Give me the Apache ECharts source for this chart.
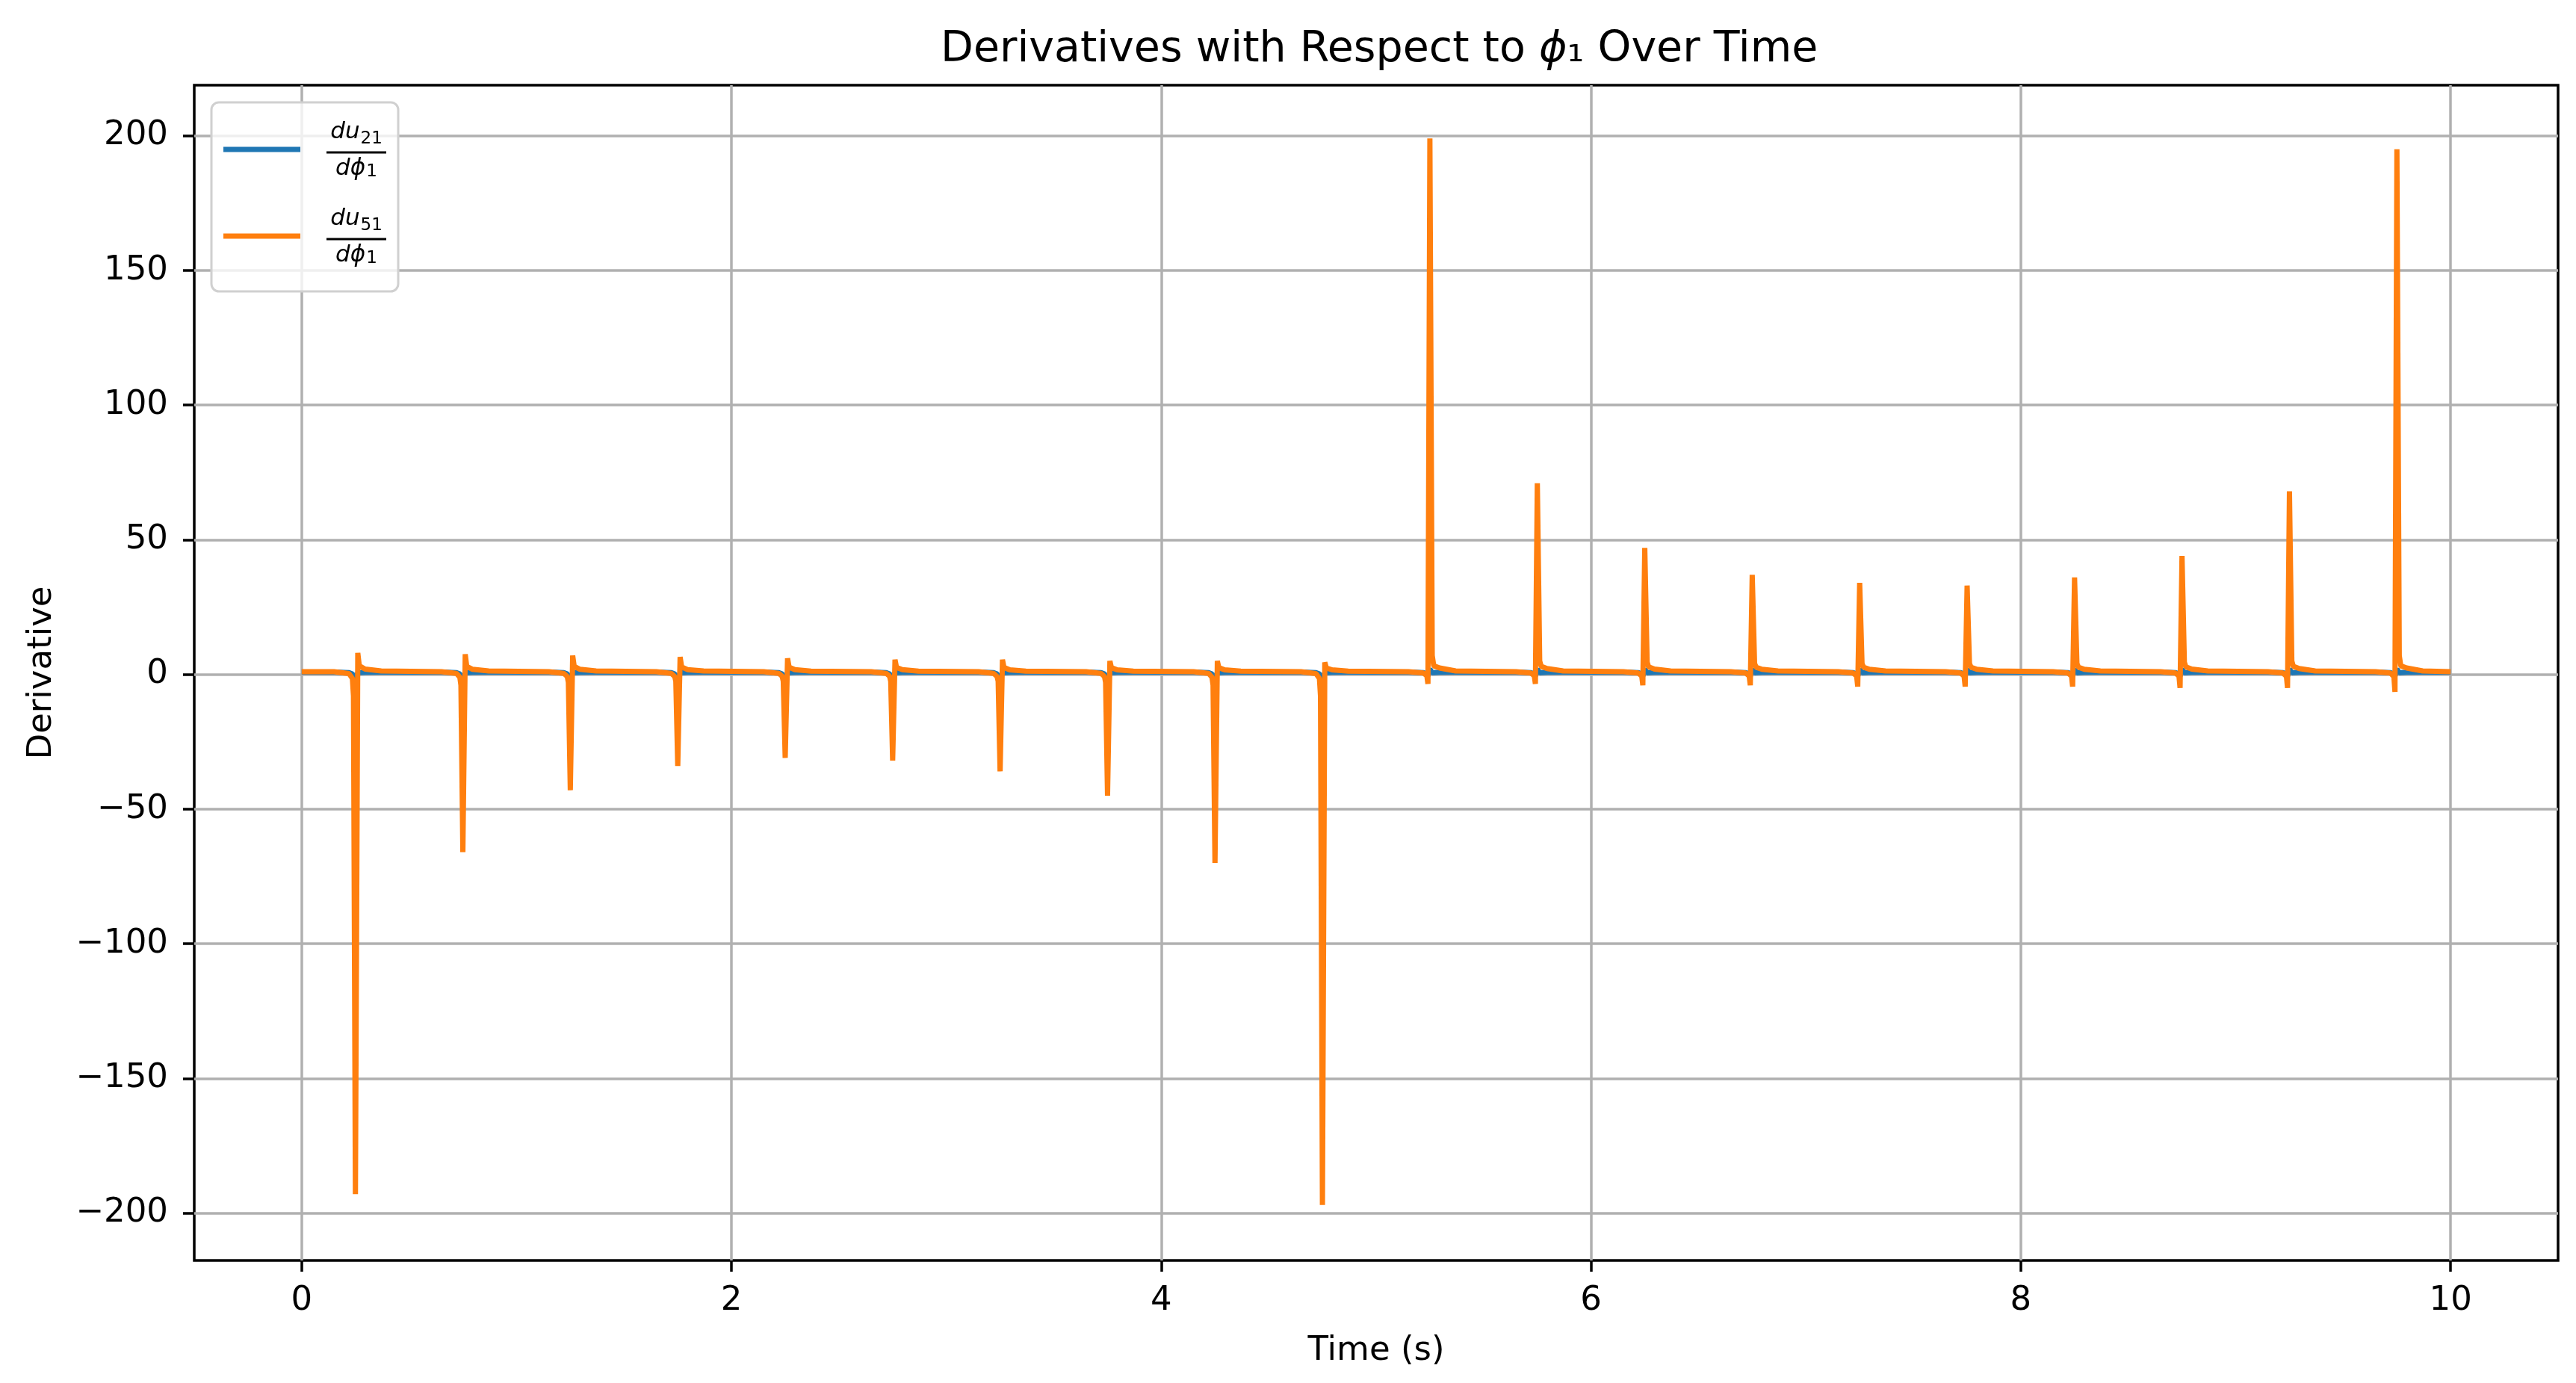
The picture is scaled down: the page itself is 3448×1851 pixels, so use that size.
<!DOCTYPE html>
<html>
<head>
<meta charset="utf-8">
<title>Derivatives with Respect to phi1</title>
<script src="https://cdn.jsdelivr.net/npm/echarts@6/dist/echarts.min.js"></script>
<style>
  html, body { margin: 0; padding: 0; background: #ffffff; }
  #chart { width: 3448px; height: 1851px; }
</style>
</head>
<body>
<div id="chart"></div>
<script>
// time samples (s), dense around each switching instant
var time = [
  0,
  0.15, 0.22, 0.236, 0.241, 0.25, 0.261, 0.268, 0.295, 0.37,
  0.65, 0.72, 0.736, 0.741, 0.75, 0.761, 0.768, 0.795, 0.87,
  1.15, 1.22, 1.236, 1.241, 1.25, 1.261, 1.268, 1.295, 1.37,
  1.65, 1.72, 1.736, 1.741, 1.75, 1.761, 1.768, 1.795, 1.87,
  2.15, 2.22, 2.236, 2.241, 2.25, 2.261, 2.268, 2.295, 2.37,
  2.65, 2.72, 2.736, 2.741, 2.75, 2.761, 2.768, 2.795, 2.87,
  3.15, 3.22, 3.236, 3.241, 3.25, 3.261, 3.268, 3.295, 3.37,
  3.65, 3.72, 3.736, 3.741, 3.75, 3.761, 3.768, 3.795, 3.87,
  4.15, 4.22, 4.236, 4.241, 4.25, 4.261, 4.268, 4.295, 4.37,
  4.65, 4.72, 4.736, 4.741, 4.75, 4.761, 4.768, 4.795, 4.87,
  5.15, 5.22, 5.236, 5.241, 5.25, 5.261, 5.268, 5.295, 5.37,
  5.65, 5.72, 5.736, 5.741, 5.75, 5.761, 5.768, 5.795, 5.87,
  6.15, 6.22, 6.236, 6.241, 6.25, 6.261, 6.268, 6.295, 6.37,
  6.65, 6.72, 6.736, 6.741, 6.75, 6.761, 6.768, 6.795, 6.87,
  7.15, 7.22, 7.236, 7.241, 7.25, 7.261, 7.268, 7.295, 7.37,
  7.65, 7.72, 7.736, 7.741, 7.75, 7.761, 7.768, 7.795, 7.87,
  8.15, 8.22, 8.236, 8.241, 8.25, 8.261, 8.268, 8.295, 8.37,
  8.65, 8.72, 8.736, 8.741, 8.75, 8.761, 8.768, 8.795, 8.87,
  9.15, 9.22, 9.236, 9.241, 9.25, 9.261, 9.268, 9.295, 9.37,
  9.65, 9.72, 9.736, 9.741, 9.75, 9.761, 9.768, 9.795, 9.87,
  10
];

// du21/dphi1 - stays close to zero
var du21 = [
  0.9,
  0.9, 0.7, 0.2, -0.6, -2, 0.6, 0.7, 0.8, 0.9,
  0.9, 0.7, 0.2, -0.6, -2, 0.6, 0.7, 0.8, 0.9,
  0.9, 0.7, 0.2, -0.6, -2, 0.6, 0.7, 0.8, 0.9,
  0.9, 0.7, 0.2, -0.6, -2, 0.6, 0.7, 0.8, 0.9,
  0.9, 0.7, 0.2, -0.6, -2, 0.6, 0.7, 0.8, 0.9,
  0.9, 0.7, 0.2, -0.6, -2, 0.6, 0.7, 0.8, 0.9,
  0.9, 0.7, 0.2, -0.6, -2, 0.6, 0.7, 0.8, 0.9,
  0.9, 0.7, 0.2, -0.6, -2, 0.6, 0.7, 0.8, 0.9,
  0.9, 0.7, 0.2, -0.6, -2, 0.6, 0.7, 0.8, 0.9,
  0.9, 0.7, 0.2, -0.6, -2, 0.6, 0.7, 0.8, 0.9,
  0.9, 0.7, 0.2, -0.6, 2, 0.6, 0.7, 0.8, 0.9,
  0.9, 0.7, 0.2, -0.6, 2, 0.6, 0.7, 0.8, 0.9,
  0.9, 0.7, 0.2, -0.6, 2, 0.6, 0.7, 0.8, 0.9,
  0.9, 0.7, 0.2, -0.6, 2, 0.6, 0.7, 0.8, 0.9,
  0.9, 0.7, 0.2, -0.6, 2, 0.6, 0.7, 0.8, 0.9,
  0.9, 0.7, 0.2, -0.6, 2, 0.6, 0.7, 0.8, 0.9,
  0.9, 0.7, 0.2, -0.6, 2, 0.6, 0.7, 0.8, 0.9,
  0.9, 0.7, 0.2, -0.6, 2, 0.6, 0.7, 0.8, 0.9,
  0.9, 0.7, 0.2, -0.6, 2, 0.6, 0.7, 0.8, 0.9,
  0.9, 0.7, 0.2, -0.6, 2, 0.6, 0.7, 0.8, 0.9,
  0.9
];

// du51/dphi1 - negative spikes before t=5, positive after
var du51 = [
  1.0,
  1.0, 0.3, -1.5, -8, -193, 8, 3.2, 2.0, 1.3,
  1.0, 0.4, -1.0, -4, -66, 7.5, 3.0, 1.9, 1.3,
  1.0, 0.4, -0.8, -3, -43, 7, 3.0, 1.9, 1.3,
  1.0, 0.4, -0.8, -2.5, -34, 6.5, 2.8, 1.8, 1.3,
  1.0, 0.4, -0.7, -2.5, -31, 6, 2.7, 1.8, 1.2,
  1.0, 0.4, -0.7, -2.5, -32, 5.5, 2.6, 1.8, 1.2,
  1.0, 0.4, -0.8, -2.5, -36, 5.5, 2.6, 1.7, 1.2,
  1.0, 0.4, -0.8, -3, -45, 5, 2.5, 1.7, 1.2,
  1.0, 0.4, -1.0, -4, -70, 5, 2.5, 1.7, 1.2,
  1.0, 0.3, -1.5, -8, -197, 4.5, 2.4, 1.7, 1.2,
  1.0, 0.5, -0.5, -3.5, 199, 7, 3.2, 2.4, 1.3,
  1.0, 0.5, -0.5, -3.5, 71, 5, 3.0, 2.2, 1.3,
  1.0, 0.5, -0.6, -4, 47, 4.5, 2.8, 2.0, 1.3,
  1.0, 0.5, -0.6, -4, 37, 4, 2.7, 1.9, 1.3,
  1.0, 0.5, -0.6, -4.5, 34, 4, 2.7, 1.9, 1.3,
  1.0, 0.5, -0.6, -4.5, 33, 4, 2.7, 1.9, 1.3,
  1.0, 0.5, -0.6, -4.5, 36, 4, 2.7, 1.9, 1.3,
  1.0, 0.5, -0.6, -5, 44, 4.5, 2.8, 2.0, 1.3,
  1.0, 0.5, -0.7, -5, 68, 5, 3.0, 2.2, 1.3,
  1.0, 0.5, -0.8, -6.5, 195, 7, 3.2, 2.4, 1.3,
  1.0
];

var xTicks = [0, 2, 4, 6, 8, 10];
var yTicks = [-200, -150, -100, -50, 0, 50, 100, 150, 200];

function drawChart () {

  var chartDom = document.getElementById('chart');
  var myChart = echarts.init(chartDom, null, { renderer: 'canvas' });
  var option;

  var font = 'DejaVu Sans';

  var s21 = [];
  var s51 = [];
  for (var i = 0; i < time.length; i++) {
    s21.push([time[i], du21[i]]);
    s51.push([time[i], du51[i]]);
  }

  // mathtext-like fractions for the legend
  var fracLabel = {
    'du21': '{num|du}{nsub|21}\n{bar| }\n{den|dϕ}{dsub|1}',
    'du51': '{num|du}{nsub|51}\n{bar| }\n{den|dϕ}{dsub|1}'
  };

  option = {
    animation: false,
    backgroundColor: '#ffffff',
    title: {
      text: 'Derivatives with Respect to {i|ϕ}₁ Over Time',
      left: 1254,
      top: 34,
      textStyle: {
        fontFamily: font,
        fontSize: 57,
        fontWeight: 'normal',
        color: '#000000',
        rich: {
          i: { fontFamily: font, fontSize: 57, fontStyle: 'italic', color: '#000000' }
        }
      }
    },
    legend: {
      orient: 'vertical',
      left: 283,
      top: 137,
      padding: [24, 16, 32, 16],
      itemGap: 35,
      itemWidth: 103,
      itemHeight: 7,
      icon: 'rect',
      backgroundColor: 'rgba(255,255,255,0.8)',
      borderColor: '#d0d0d0',
      borderWidth: 3,
      borderRadius: 10,
      data: ['du21', 'du51'],
      formatter: function (name) { return fracLabel[name]; },
      textStyle: {
        padding: [0, 0, 0, 30],
        rich: {
          num: { fontFamily: font, fontSize: 31, fontStyle: 'italic', color: '#000', align: 'center', verticalAlign: 'bottom', lineHeight: 42, padding: [0, 0, 6, 0] },
          nsub: { fontFamily: font, fontSize: 23, color: '#000', align: 'center', verticalAlign: 'bottom', lineHeight: 42, padding: [0, 0, 0, 1] },
          bar: { fontSize: 2, width: 80, height: 3, lineHeight: 12, backgroundColor: '#000', align: 'center' },
          den: { fontFamily: font, fontSize: 31, fontStyle: 'italic', color: '#000', align: 'center', verticalAlign: 'top', lineHeight: 34, padding: [0, 0, 0, 0] },
          dsub: { fontFamily: font, fontSize: 23, color: '#000', align: 'center', verticalAlign: 'top', lineHeight: 34, padding: [9, 0, 0, 1] }
        }
      }
    },
    grid: {
      left: 260,
      right: 24,
      top: 114,
      bottom: 164,
      show: true,
      borderColor: '#000000',
      borderWidth: 3.5,
      containLabel: false
    },
    xAxis: {
      type: 'value',
      min: -0.5,
      max: 10.5,
      splitNumber: 5,
      name: 'Time (s)',
      nameLocation: 'middle',
      nameGap: 99,
      nameTextStyle: { fontFamily: font, fontSize: 45, color: '#000' },
      axisLine: { show: false, onZero: false },
      axisTick: { show: true, customValues: xTicks, length: 15, lineStyle: { color: '#000', width: 3.5 } },
      axisLabel: { customValues: xTicks, margin: 32, fontFamily: font, fontSize: 45, color: '#000' },
      splitLine: { show: true, lineStyle: { color: '#b0b0b0', width: 3.5 } }
    },
    yAxis: {
      type: 'value',
      min: -217.6,
      max: 218.8,
      splitNumber: 9,
      name: 'Derivative',
      nameLocation: 'middle',
      nameGap: 181,
      nameRotate: 90,
      nameTextStyle: { fontFamily: font, fontSize: 45, color: '#000' },
      axisLine: { show: false, onZero: false },
      axisTick: { show: true, customValues: yTicks, length: 15, lineStyle: { color: '#000', width: 3.5 } },
      axisLabel: {
        customValues: yTicks,
        margin: 35,
        fontFamily: font,
        fontSize: 45,
        color: '#000',
        formatter: function (v) { return String(v).replace('-', '\u2212'); }
      },
      splitLine: { show: true, lineStyle: { color: '#b0b0b0', width: 3.5 } }
    },
    series: [
      {
        name: 'du21',
        type: 'line',
        data: s21,
        showSymbol: false,
        color: '#1f77b4',
        lineStyle: { color: '#1f77b4', width: 7 }
      },
      {
        name: 'du51',
        type: 'line',
        data: s51,
        showSymbol: false,
        color: '#ff7f0e',
        lineStyle: { color: '#ff7f0e', width: 7 }
      }
    ]
  };

  option && myChart.setOption(option);

}

drawChart()
</script>
</body>
</html>
